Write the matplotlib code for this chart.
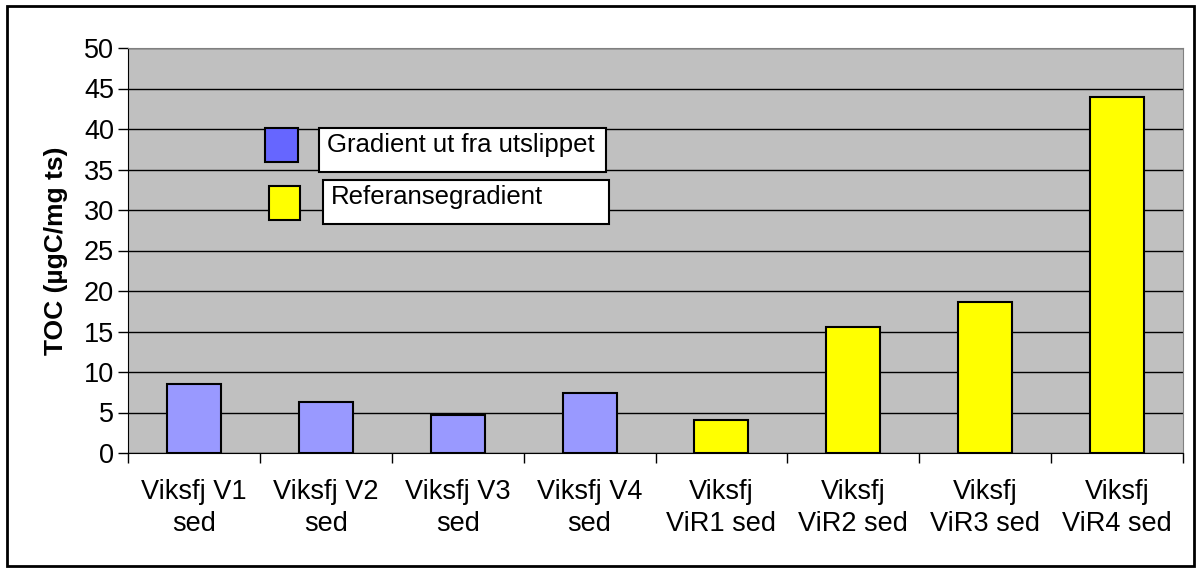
import numpy as np
import matplotlib.pyplot as plt
from matplotlib.patches import Rectangle

plt.rcParams['font.family'] = ['Liberation Sans', 'DejaVu Sans']

#%% data
stasjoner = ['Viksfj V1\nsed', 'Viksfj V2\nsed', 'Viksfj V3\nsed', 'Viksfj V4\nsed',
             'Viksfj\nViR1 sed', 'Viksfj\nViR2 sed', 'Viksfj\nViR3 sed', 'Viksfj\nViR4 sed']
toc = [8.55, 6.35, 4.65, 7.4, 4.1, 15.5, 18.7, 44.0]
gruppe = ['utslipp'] * 4 + ['referanse'] * 4
farger = {'utslipp': '#9999FF', 'referanse': '#FFFF00'}
legend_tekst = ['Gradient ut fra utslippet', 'Referansegradient']
legend_farger = ['#6666FF', '#FFFF00']

W, H = 1196, 568
def px(x, y):
    # pixel (fra øverst til venstre) -> figurkoordinater
    return x / W, 1 - y / H

fig = plt.figure(figsize=(W / 100, H / 100), dpi=100)
ax = fig.add_axes([128 / W, 1 - 453 / H, (1183 - 128) / W, (453 - 48) / H])
ax.set_facecolor('#C0C0C0')

x = np.arange(len(toc))
ax.bar(x, toc, width=0.41, color=[farger[g] for g in gruppe],
       edgecolor='black', linewidth=1.5, zorder=3)

ax.set_xlim(-0.5, len(toc) - 0.5)
ax.set_ylim(0, 50)
ax.set_yticks(np.arange(0, 51, 5))
ax.yaxis.grid(True, color='black', linewidth=1, zorder=0)
ax.set_axisbelow(True)

ax.set_xticks(x)
ax.set_xticklabels(stasjoner, fontsize=19.5, linespacing=1.3)
ax.set_xticks(np.arange(-0.5, len(toc)), minor=True)
ax.tick_params(axis='x', which='major', length=0, pad=19)
ax.tick_params(axis='x', which='minor', length=7, width=1, direction='out')
ax.tick_params(axis='y', length=7, width=1, direction='out', labelsize=19.5, pad=3)

ax.set_ylabel('TOC (µgC/mg ts)', fontsize=19, fontweight='bold')
ax.yaxis.set_label_coords(-0.057, 0.5)

ax.spines['left'].set_color('black')
ax.spines['bottom'].set_color('black')
ax.spines['right'].set_color('#808080')
ax.spines['top'].set_color('#808080')

#%% "legend" som egne bokser
ruter = [(265, 128, 33, 34), (269, 186, 31, 34)]
bokser = [(319, 128, 287, 44), (323, 180, 286, 44)]
tekst_pos = [(327, 145), (331, 197)]
for i in range(2):
    rx, ry, rw, rh = ruter[i]
    x0, y0 = px(rx, ry + rh)
    fig.patches.append(Rectangle((x0, y0), rw / W, rh / H, transform=fig.transFigure,
                                 facecolor=legend_farger[i], edgecolor='black', linewidth=1.5, zorder=5))
    bx, by, bw, bh = bokser[i]
    x0, y0 = px(bx, by + bh)
    fig.patches.append(Rectangle((x0, y0), bw / W, bh / H, transform=fig.transFigure,
                                 facecolor='white', edgecolor='black', linewidth=1.5, zorder=5))
    tx, ty = px(*tekst_pos[i])
    fig.text(tx, ty, legend_tekst[i], fontsize=18.5, va='center', ha='left', zorder=6)

# ramme rundt figuren
x0, y0 = px(7, 566)
fig.patches.append(Rectangle((x0, y0), (1194 - 7) / W, (566 - 6) / H, transform=fig.transFigure,
                             facecolor='none', edgecolor='black', linewidth=2))

fig.savefig('out.png', dpi=100)
